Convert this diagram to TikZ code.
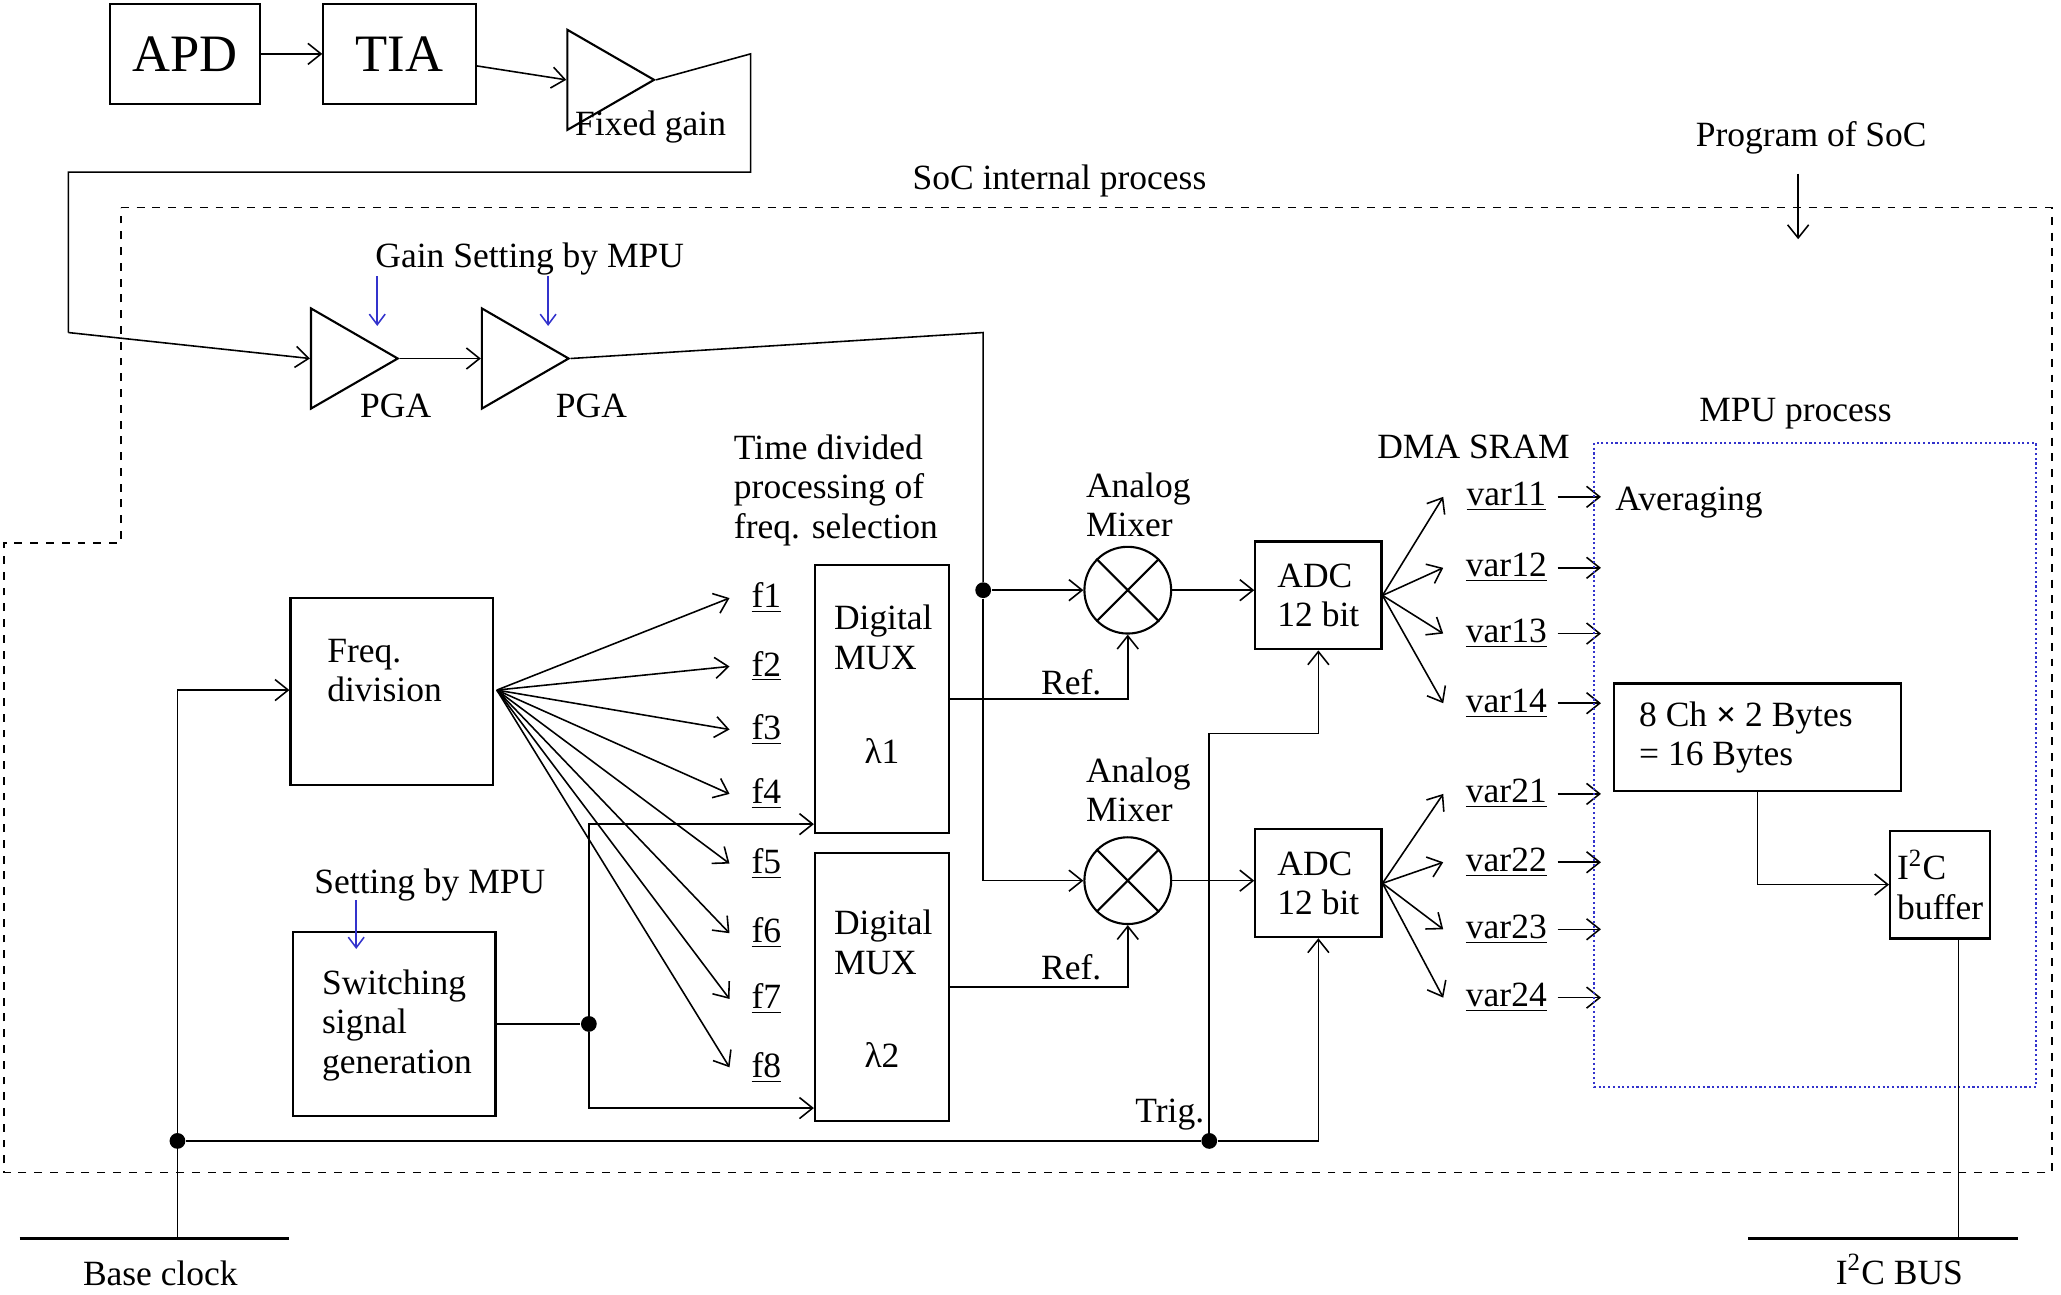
\documentclass[tikz,border=0pt]{standalone}
\usepackage{fontspec}
\setmainfont{Liberation Serif}
\usetikzlibrary{arrows.meta,shapes.geometric}
\begin{document}
\begin{tikzpicture}[x=0.5pt,y=-0.5pt,
		font=\fontsize{13.5}{15}\selectfont,
		base/.style={draw, thick, inner sep=0pt},
		amp/.style={draw, thick, isosceles triangle, isosceles triangle apex angle=60, minimum height=33pt, inner sep=0pt, anchor=left side},
		mix/.style={draw, thick, circle, minimum size=33pt, inner sep=0pt},
		link/.style={-{Straight Barb[length=5pt,width=8pt]}, semithick},
		set/.style={-{Straight Barb[length=4pt,width=6pt]}, semithick, blue!60!gray},
		dot/.style={circle, fill, inner sep=0pt, minimum size=6pt}
	]
	\useasboundingbox (0,0) rectangle (1568,985);

	% front end
	\node[base, minimum width=57pt, minimum height=38pt, font=\fontsize{20}{22}\selectfont] at (141,41) (apd) {APD};
	\node[base, minimum width=58pt, minimum height=38pt, font=\fontsize{20}{22}\selectfont] at (304,41) (tia) {TIA};
	\node[amp] at (465,41) (fix) {};
	\node at (495,97) {Fixed gain};
	\draw[link] (apd) -- (tia);
	\draw[link] (tia) -- (fix.west);

	% SoC outline
	\draw[dashed, semithick] (92,158) -- (1561,158) -- (1561,892) -- (3,892) -- (3,413) -- (92,413) -- cycle;
	\node at (806,138) {SoC internal process};
	\node at (1378,105) (prog) {Program of SoC};
	\coordinate (progend) at (1368,182);
	\draw[link] (1368,132) -- (progend);

	% PGAs
	\node[amp] at (270,253) (pga1) {};
	\node[amp] at (400,253) (pga2) {};
	\node at (301,309) {PGA};
	\node at (450,309) {PGA};
	\node at (403,197) {Gain Setting by MPU};
	\draw[set] (287,210) -- (287,248);
	\draw[set] (417,210) -- (417,248);
	\draw[semithick] (fix.apex) -- (571,41) -- (571,131) -- (52,131) -- (52,253);
	\draw[link] (52,253) -- (pga1.west);
	\draw[link] (pga1.apex) -- (pga2.west);

	% mixers and ADCs
	\node[mix] at (858,449) (mix1) {};
	\node[mix] at (858,670) (mix2) {};
	\foreach \m in {mix1,mix2}{
		\draw[thick] (\m.45) -- (\m.225) (\m.135) -- (\m.315);
	}
	\node[align=left] at (866,384) {Analog\\Mixer};
	\node[align=left] at (866,601) {Analog\\Mixer};
	\node[base, minimum width=48pt, minimum height=41pt, align=left] at (1003,453) (adc1) {ADC\\12 bit};
	\node[base, minimum width=48pt, minimum height=41pt, align=left] at (1003,672) (adc2) {ADC\\12 bit};
	\node[dot] at (748,449) (split) {};
	\draw[semithick] (pga2.apex) -- (748,253) -- (split);
	\draw[link] (split) -- (mix1.west);
	\draw[link] (split) -- (748,670) -- (mix2.west);
	\draw[link] (mix1) -- (adc1.west |- mix1);
	\draw[link] (mix2) -- (adc2.west |- mix2);

	% frequency division
	\node[base, minimum width=77pt, minimum height=71pt] at (298,526) (freq) {};
	\node[align=left, anchor=west] at (242,510) {Freq.\\division};
	\node[align=left] at (636,373) {Time divided\\processing of\\freq. selection};
	\foreach \i/\y in {1/455,2/507,3/555,4/604,5/657,6/710,7/760,8/812}{
		\node at (583,\y) (f\i) {\underline{f\i}};
		\draw[link] (378,525) -- (555,\y);
	}

	% MUXes
	\node[base, minimum width=51pt, minimum height=102pt] at (671,532) (mux1) {};
	\node[base, minimum width=51pt, minimum height=102pt] at (671,751) (mux2) {};
	\node[align=left] at (672,485) {Digital\\MUX};
	\node at (671,571) {λ1};
	\node[align=left] at (672,717) {Digital\\MUX};
	\node at (671,803) {λ2};
	\draw[link] (mux1.east |- 0,532) -- (858,532) -- (mix1.south);
	\draw[link] (mux2.east |- 0,751) -- (858,751) -- (mix2.south);
	\node at (815,519) {Ref.};
	\node at (815,736) {Ref.};

	% switching signal
	\node[base, minimum width=77pt, minimum height=70pt] at (300,779) (sw) {};
	\node[align=left, anchor=west] at (238,780) {Switching\\signal\\generation};
	\node at (327,673) {Setting by MPU};
	\draw[set] (271,685) -- (271,722);
	\node[dot] at (448,779) (swdot) {};
	\draw[semithick] (sw.east |- swdot) -- (swdot);
	\draw[link] (swdot) -- (448,627) -- (mux1.west |- 0,627);
	\draw[link] (swdot) -- (448,843) -- (mux2.west |- 0,843);

	% clock and trigger
	\node at (122,969) (clk) {Base clock};
	\draw[very thick] (15,942) -- (220,942);
	\node[dot] at (135,868) (clkdot) {};
	\node[dot] at (920,868) (trig) {};
	\draw[link] (135,942) -- (135,525) -- (freq.west |- 0,525);
	\draw[semithick] (clkdot) -- (trig);
	\draw[link] (trig) -- (1003,868) -- (adc2.south);
	\draw[link] (trig) -- (920,558) -- (1003,558) -- (adc1.south);
	\node at (890,848) {Trig.};

	% DMA SRAM
	\node at (1121,340) {DMA SRAM};
	\foreach \i/\y in {11/378,12/432,13/482,14/535}{
		\draw[link] (adc1.east) -- (1098,\y);
		\node at (1146,\y) (v\i) {\underline{var\i}};
		\draw[link] (1185,\y) -- (1218,\y);
	}
	\foreach \i/\y in {21/604,22/656,23/707,24/759}{
		\draw[link] (adc2.east) -- (1098,\y);
		\node at (1146,\y) (v\i) {\underline{var\i}};
		\draw[link] (1185,\y) -- (1218,\y);
	}

	% MPU process
	\draw[densely dotted, thick, blue!60!gray] (1213,337) rectangle (1549,827);
	\node at (1366,315) {MPU process};
	\node at (1285,382) {Averaging};
	\node[base, minimum width=109pt, minimum height=41pt] at (1337,561) (bytes) {};
	\node[align=left, anchor=west] at (1240,561) {8 Ch {\bfseries\texttimes} 2 Bytes\\= 16 Bytes};
	\node[base, minimum width=38pt, minimum height=41pt, align=left] at (1476,673) (buf) {I\textsuperscript{2}C\\buffer};
	\draw[link] (1337,602) -- (1337,673) -- (buf.west);
	\draw[semithick] (1490,715) -- (1490,942);
	\draw[very thick] (1330,942) -- (1535,942);
	\node at (1445,966) (bus) {I\textsuperscript{2}C BUS};
\end{tikzpicture}
\end{document}
